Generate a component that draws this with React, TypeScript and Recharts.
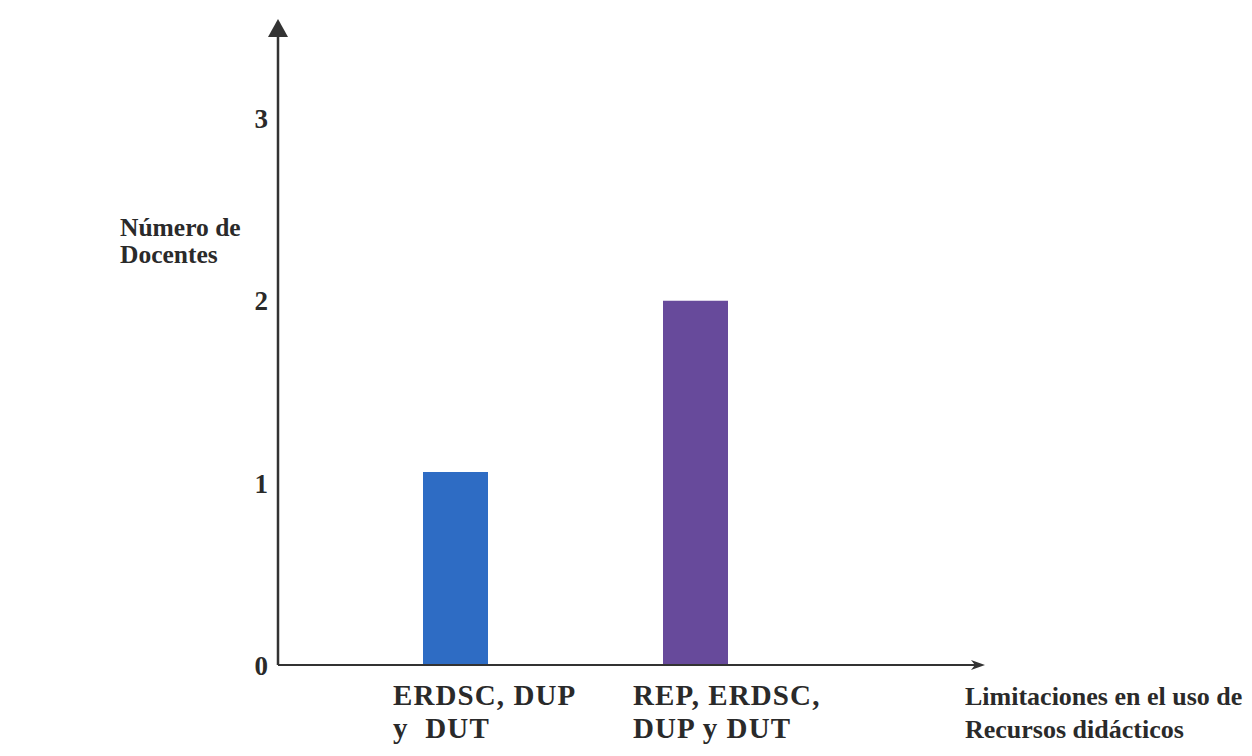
import React from "react";
import { BarChart, Bar, XAxis, YAxis, Cell } from "recharts";

const categories = ["ERDSC, DUP|y  DUT", "REP, ERDSC,|DUP y DUT"];
const values = [1.06, 2];
const barColors = ["#2e6cc4", "#674a9b"];
const yTicks = [0, 1, 2, 3];
const yTitle = ["Número de", "Docentes"];
const xTitle = ["Limitaciones en el uso de", "Recursos didácticos"];

const data = categories.map((c, i) => ({ name: c, value: values[i] }));

const FONT = "'Liberation Serif', 'Times New Roman', serif";
const INK = "#333";
const TXT = "#2a2a2a";

const XTick = (props: any) => {
  const { x, y, payload } = props;
  const lines = String(payload.value).split("|");
  return (
    <text x={x - 62} y={y} fontFamily={FONT} fontWeight="bold" fontSize={29} letterSpacing={1.1} fill={TXT} textAnchor="start">
      {lines.map((l, i) => (
        <tspan key={i} x={x - 62} dy={i === 0 ? 40 : 33} style={{ whiteSpace: "pre" }}>
          {l}
        </tspan>
      ))}
    </text>
  );
};

const XTitle = (props: any) => {
  const vb = props.viewBox || {};
  const x0 = vb.x + vb.width - 10;
  return (
    <text x={x0} y={vb.y} fontFamily={FONT} fontWeight="bold" fontSize={26} fill={TXT} textAnchor="start">
      {xTitle.map((l, i) => (
        <tspan key={i} x={x0} dy={i === 0 ? 40 : 33}>
          {l}
        </tspan>
      ))}
    </text>
  );
};

const YTitle = (props: any) => {
  const vb = props.viewBox || {};
  const x0 = vb.x - 98;
  return (
    <text x={x0} y={vb.y} fontFamily={FONT} fontWeight="bold" fontSize={25.5} fill={TXT} textAnchor="start">
      {yTitle.map((l, i) => (
        <tspan key={i} x={x0} dy={i === 0 ? 201 : 27}>
          {l}
        </tspan>
      ))}
    </text>
  );
};

export default function App() {
  return (
    <div style={{ background: "#fff" }}>
      <BarChart
        width={1244}
        height={740}
        data={data}
        margin={{ top: 27, right: 277, bottom: 0, left: 210 }}
      >
        <defs>
          <marker id="arrowUp" markerUnits="userSpaceOnUse" markerWidth="20" markerHeight="20" refX="2" refY="10" orient="auto-start-reverse" viewBox="0 0 20 20">
            <path d="M0,0 L18,10 L0,20 Z" fill={INK} />
          </marker>
          <marker id="arrowRight" markerUnits="userSpaceOnUse" markerWidth="14" markerHeight="12" refX="4" refY="6" orient="auto" viewBox="0 0 14 12">
            <path d="M0,1 L14,6 L0,11 L4,6 Z" fill={INK} />
          </marker>
        </defs>
        <XAxis
          dataKey="name"
          interval={0}
          padding={{ left: 57, right: 160 }}
          height={83}
          tickLine={false}
          tickSize={0}
          tickMargin={0}
          tick={<XTick />}
          axisLine={{ stroke: INK, strokeWidth: 2, markerEnd: "url(#arrowRight)" }}
          label={<XTitle />}
        />
        <YAxis
          width={60}
          domain={[0, 3.46]}
          ticks={yTicks}
          tickLine={false}
          tickSize={0}
          tickMargin={10}
          tick={{ fontFamily: FONT, fontWeight: "bold", fontSize: 27, fill: TXT }}
          axisLine={{ stroke: INK, strokeWidth: 2.5, markerStart: "url(#arrowUp)" }}
          label={<YTitle />}
        />
        <Bar dataKey="value" barSize={65} isAnimationActive={false}>
          {data.map((d, i) => (
            <Cell key={i} fill={barColors[i]} />
          ))}
        </Bar>
      </BarChart>
    </div>
  );
}
